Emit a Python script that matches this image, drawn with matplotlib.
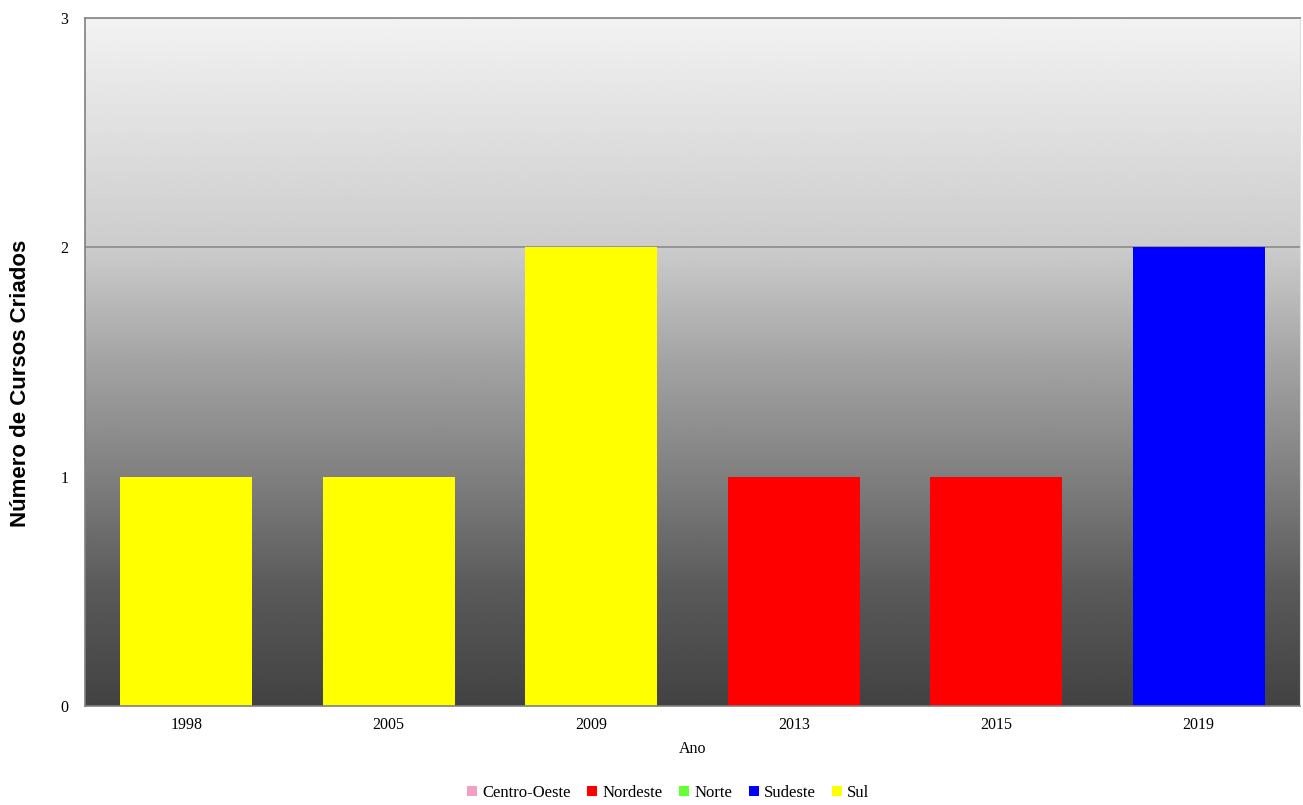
import numpy as np
import matplotlib.pyplot as plt
from matplotlib.patches import Patch

# dados
anos = ['1998', '2005', '2009', '2013', '2015', '2019']
regiao_por_ano = ['Sul', 'Sul', 'Sul', 'Nordeste', 'Nordeste', 'Sudeste']
cursos = [1, 1, 2, 1, 1, 2]
regioes = ['Centro-Oeste', 'Nordeste', 'Norte', 'Sudeste', 'Sul']
cores = {
    'Centro-Oeste': '#f4a0c4',
    'Nordeste': '#ff0000',
    'Norte': '#66ff33',
    'Sudeste': '#0000ff',
    'Sul': '#ffff00',
}

serif = ['Liberation Serif', 'DejaVu Serif']
sans = ['Liberation Sans', 'DejaVu Sans']

fig = plt.figure(figsize=(13.03, 8.05), dpi=100)
ax = fig.add_axes([0.0652, 0.123, 0.9325, 0.8546])

ymax = 3
x = np.arange(len(anos))
ax.set_xlim(-0.5, len(anos) - 0.5)
ax.set_ylim(0, ymax)

# fundo em degradê (claro em cima, escuro embaixo)
yy = np.linspace(0, ymax, 400)
shade = np.interp(yy, [0, 0.5, 1, 1.5, 2, 3], [0.26, 0.35, 0.50, 0.64, 0.80, 0.95])
grad = np.repeat(shade[:, None], 2, axis=1)
ax.imshow(grad, cmap='gray', vmin=0, vmax=1, origin='lower', aspect='auto',
          extent=[-0.5, len(anos) - 0.5, 0, ymax], zorder=0)

ax.axhline(2, color='#8c8c8c', lw=1.2, zorder=1)

ax.bar(x, cursos, width=0.65, color=[cores[r] for r in regiao_por_ano], zorder=2)

ax.set_xticks(x)
ax.set_xticklabels(anos, family=serif, fontsize=11.5)
ax.set_yticks([0, 1, 2, 3])
ax.set_yticklabels(['0', '1', '2', '3'], family=serif, fontsize=11.5)
ax.tick_params(axis='x', length=0, pad=8)
ax.tick_params(axis='y', length=0, pad=12)

for s in ['left', 'bottom', 'top']:
    ax.spines[s].set_color('#808080')
    ax.spines[s].set_linewidth(1.2)
ax.spines['right'].set_color('#e0e0e0')

ax.set_xlabel('Ano', family=serif, fontsize=11.5, labelpad=6)
fig.text(0.016, 0.524, 'Número de Cursos Criados', rotation=90, va='center', ha='center',
         family=sans, fontsize=16, fontweight='bold')

handles = [Patch(facecolor=cores[r], edgecolor='none', label=r) for r in regioes]
fig.legend(handles=handles, loc='center', bbox_to_anchor=(0.513, 0.015), ncol=5,
           frameon=False, prop={'family': serif, 'size': 12},
           handlelength=0.6, handleheight=0.6, handletextpad=0.3, columnspacing=1.0)

fig.savefig('out.png', dpi=100)
